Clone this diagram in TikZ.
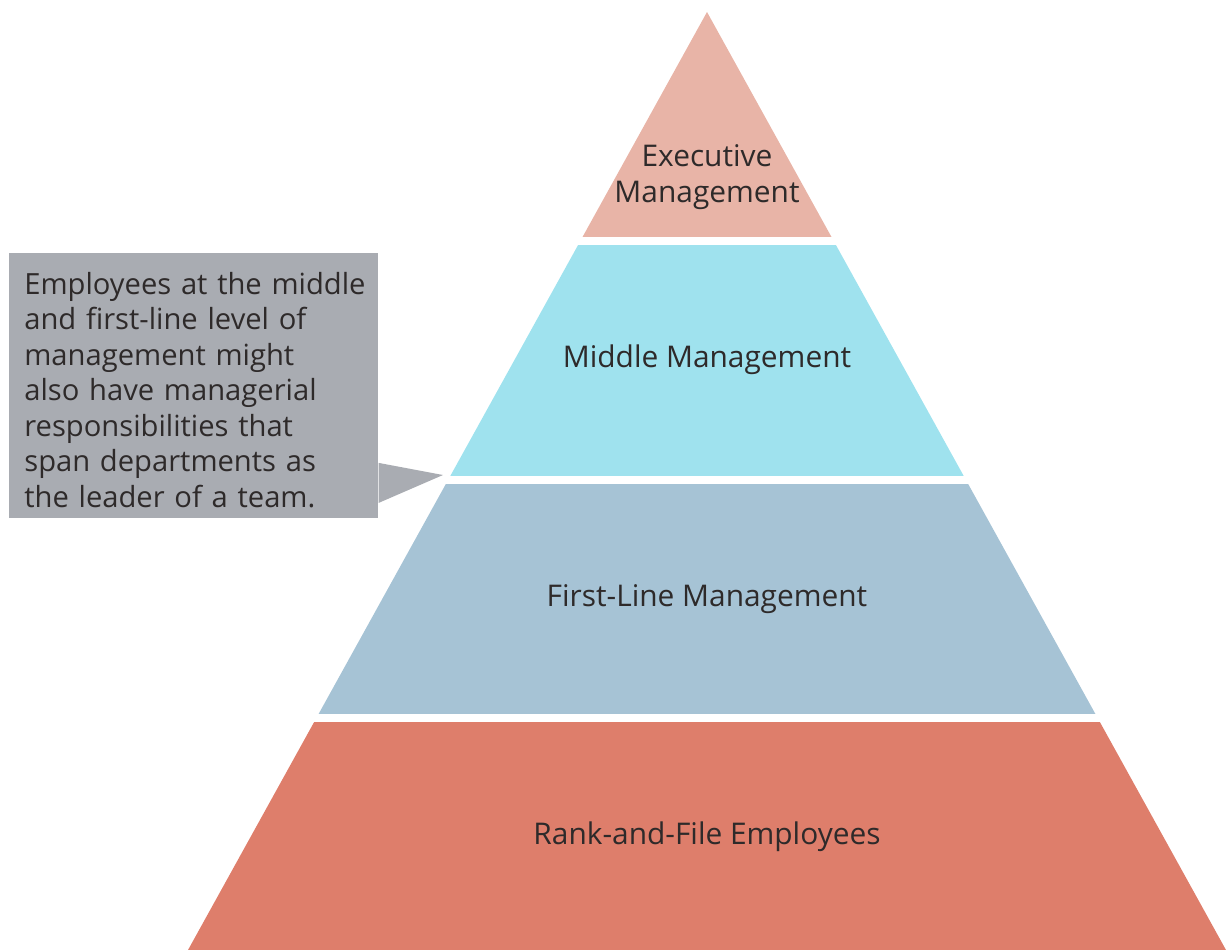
\documentclass[tikz,border=0pt]{standalone}
\usepackage{fontspec}
\setmainfont{Open Sans}
\usepackage{tikz}
\definecolor{execpink}{HTML}{E8B4A7}
\definecolor{midcyan}{HTML}{9FE2EE}
\definecolor{firstblue}{HTML}{A6C3D5}
\definecolor{rankred}{HTML}{DE7E6B}
\definecolor{notegray}{HTML}{A9ACB2}
\definecolor{labeltext}{HTML}{2E2A2A}
\tikzset{level/.style={text=labeltext, align=center, font=\fontsize{17}{20.2}\selectfont}}

\begin{document}
\begin{tikzpicture}[x=0.02cm, y=-0.02cm]
\useasboundingbox (0,0) rectangle (1226,950);
% pyramid bands
\begin{scope}
\clip (707,12) -- (1226,950) -- (188,950) -- cycle;
\foreach \ytop/\ybot/\col in {0/237/execpink, 245/476/midcyan, 484/714/firstblue, 722/950/rankred}
{
  \fill[\col] (0,\ytop) rectangle (1226,\ybot);
}
\end{scope}
\node[level] (exec) at (707,177) {Executive\\Management};
\node[level] (mid) at (707,360) {Middle Management};
\node[level] (first) at (707,599) {First-Line Management};
\node[level] (rank) at (707,837) {Rank-and-File Employees};
% callout
\node[fill=notegray, minimum width=210.4pt, minimum height=150.3pt, inner sep=0pt] (note) at (193.5,385.5) {};
\node[level, font=\fontsize{16.6}{20.2}\selectfont, align=left, text width=205pt, inner sep=0pt, anchor=west] (notetext) at (24,390)
  {Employees at the middle\\and first-line level of\\management might\\also have managerial\\responsibilities that\\span departments as\\the leader of a team.};
\coordinate (tip) at (443,475);
\fill[notegray] ([yshift=1.1cm]note.south east) -- (tip) -- ([yshift=0.3cm]note.south east) -- cycle;
\end{tikzpicture}
\end{document}
